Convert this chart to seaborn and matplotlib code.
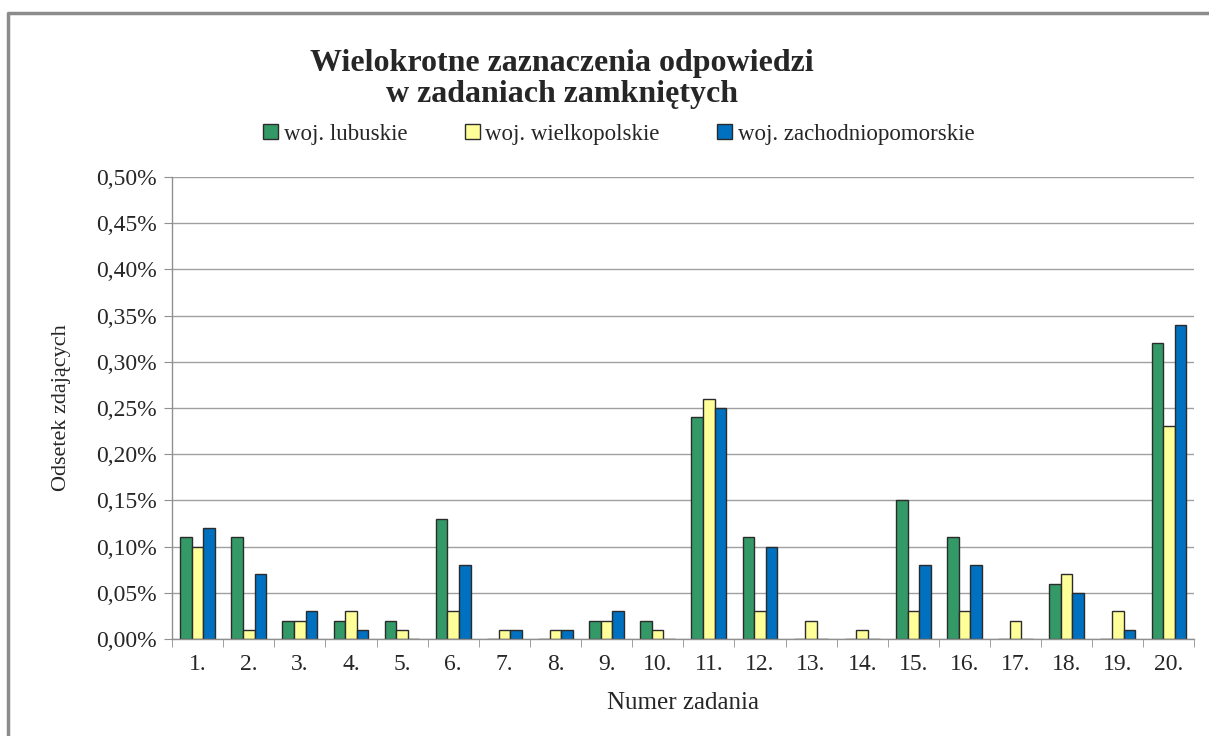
import matplotlib
matplotlib.use("Agg")
import matplotlib.pyplot as plt
import seaborn as sns
import pandas as pd
import numpy as np
from matplotlib.lines import Line2D
from matplotlib.ticker import FuncFormatter, MultipleLocator

categories = [f"{i}." for i in range(1, 21)]
lubuskie = [0.11, 0.11, 0.02, 0.02, 0.02, 0.13, 0.00, 0.00, 0.02, 0.02,
            0.24, 0.11, 0.00, 0.00, 0.15, 0.11, 0.00, 0.06, 0.00, 0.32]
wielkopolskie = [0.10, 0.01, 0.02, 0.03, 0.01, 0.03, 0.01, 0.01, 0.02, 0.01,
                 0.26, 0.03, 0.02, 0.01, 0.03, 0.03, 0.02, 0.07, 0.03, 0.23]
zachodniopomorskie = [0.12, 0.07, 0.03, 0.01, 0.00, 0.08, 0.01, 0.01, 0.03, 0.00,
                      0.25, 0.10, 0.00, 0.00, 0.08, 0.08, 0.00, 0.05, 0.01, 0.34]
series_names = ["woj. lubuskie", "woj. wielkopolskie", "woj. zachodniopomorskie"]
colors = ["#339966", "#FFFF99", "#0070C0"]

df = pd.DataFrame({
    "zadanie": categories * 3,
    "seria": sum([[n] * len(categories) for n in series_names], []),
    "wartosc": lubuskie + wielkopolskie + zachodniopomorskie,
})

sns.set_style("white")
plt.rcParams["font.family"] = ["Liberation Serif", "DejaVu Serif"]

fig = plt.figure(figsize=(12.09, 7.36), dpi=100)
ax = fig.add_axes([0.1423, 0.1318, 0.8457, 0.6277])

sns.barplot(data=df, x="zadanie", y="wartosc", hue="seria", order=categories,
            hue_order=series_names, palette=colors, width=0.68, saturation=1,
            edgecolor="#2b2b2b", linewidth=1.0, ax=ax, legend=True)

ax.set_ylim(0, 0.5)
ax.set_xlim(-0.5, 19.5)
ax.yaxis.set_major_locator(MultipleLocator(0.05))
ax.yaxis.set_major_formatter(FuncFormatter(lambda v, p: f"{v:.2f}%".replace(".", ",")))
ax.grid(axis="y", color="#A0A0A0", linewidth=1.0)
ax.set_axisbelow(True)
for s in ["top", "right"]:
    ax.spines[s].set_visible(False)
for s in ["left", "bottom"]:
    ax.spines[s].set_color("#909090")
    ax.spines[s].set_linewidth(1.0)

ax.tick_params(axis="y", which="major", length=6, color="#909090", labelsize=17, pad=5, left=True)
ax.tick_params(axis="x", which="major", length=0, labelsize=17, pad=11)
ax.set_xticks(np.arange(-0.5, 20, 1), minor=True)
ax.tick_params(axis="x", which="minor", length=6, color="#909090", bottom=True)

ax.set_xlabel("Numer zadania", fontsize=18, labelpad=12)
ax.set_ylabel("Odsetek zdających", fontsize=16, labelpad=18)

leg = ax.legend(loc="center", bbox_to_anchor=(0.437, 1.093), ncol=3, frameon=False,
                fontsize=16.5, handlelength=0.65, handleheight=0.65, columnspacing=2.5,
                handletextpad=0.25)

fig.text(0.465, 0.893, "Wielokrotne zaznaczenia odpowiedzi\nw zadaniach zamkniętych",
         ha="center", va="center", fontsize=23, fontweight="bold", linespacing=1.1)

fig.add_artist(Line2D([0.007, 0.007, 1.0], [0.0, 0.982, 0.982], transform=fig.transFigure,
                      color="#8C8C8C", linewidth=2.5))

fig.savefig("out.png", dpi=100)
